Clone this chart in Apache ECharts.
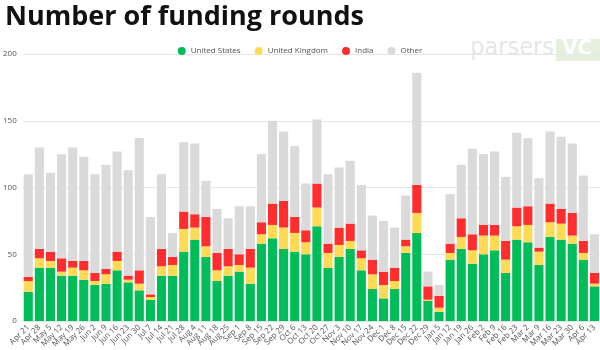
<!DOCTYPE html>
<html>
<head>
<meta charset="utf-8">
<script src="https://cdn.jsdelivr.net/npm/echarts@6/dist/echarts.min.js"></script>
<style>
  html, body { margin: 0; padding: 0; background: #fff; }
  #chart { width: 600px; height: 350px; }
</style>
</head>
<body>
<div id="chart"></div>
<script>
// weekly funding rounds
var weeks = ['Apr 21', 'Apr 28', 'May 5', 'May 12', 'May 19', 'May 26', 'Jun 2', 'Jun 9', 'Jun 16', 'Jun 23',
  'Jun 30', 'Jul 7', 'Jul 14', 'Jul 21', 'Jul 28', 'Aug 4', 'Aug 11', 'Aug 18', 'Aug 25', 'Sep 1',
  'Sep 8', 'Sep 15', 'Sep 22', 'Sep 29', 'Oct 6', 'Oct 13', 'Oct 20', 'Oct 27', 'Nov 3', 'Nov 10',
  'Nov 17', 'Nov 24', 'Dec 1', 'Dec 8', 'Dec 15', 'Dec 22', 'Dec 29', 'Jan 5', 'Jan 12', 'Jan 19',
  'Jan 26', 'Feb 2', 'Feb 9', 'Feb 16', 'Feb 23', 'Mar 2', 'Mar 9', 'Mar 16', 'Mar 23', 'Mar 30',
  'Apr 6', 'Apr 13'];

var usa = [22, 40, 40, 34, 34, 31, 27, 28, 38, 29,
  23, 16, 34, 34, 52, 61, 48, 30, 34, 37,
  28, 58, 62, 54, 52, 50, 71, 40, 48, 54,
  38, 24, 17, 24, 51, 66, 15, 7, 46, 54,
  43, 50, 53, 36, 61, 59, 42, 63, 61, 58,
  46, 26];
var uk = [8, 7, 5, 3, 6, 7, 3, 7, 7, 2,
  5, 2, 7, 8, 17, 9, 8, 8, 7, 5,
  12, 7, 10, 16, 14, 9, 14, 11, 9, 6,
  9, 11, 10, 6, 5, 15, 1, 3, 5, 9,
  10, 14, 11, 10, 10, 13, 10, 11, 12, 6,
  5, 2];
var india = [3, 7, 7, 10, 5, 7, 6, 4, 7, 3,
  10, 2, 13, 6, 13, 10, 22, 13, 13, 8,
  14, 9, 16, 20, 12, 9, 18, 7, 13, 13,
  6, 11, 10, 10, 5, 21, 10, 9, 7, 14,
  12, 8, 8, 14, 14, 14, 3, 14, 11, 17,
  9, 8];
var other = [77, 76, 59, 78, 85, 78, 74, 78, 75, 79,
  99, 58, 56, 18, 52, 53, 27, 33, 23, 36,
  32, 51, 62, 52, 53, 35, 48, 52, 45, 47,
  49, 33, 38, 30, 33, 84, 11, 8, 37, 40,
  64, 53, 55, 48, 56, 51, 52, 54, 54, 52,
  49, 29];

var chart = echarts.init(document.getElementById('chart'));

function bar(name, color, values) {
  return {
    name: name,
    type: 'bar',
    stack: 'total',
    barCategoryGap: '18%',
    itemStyle: { color: color },
    emphasis: { disabled: true },
    data: values
  };
}

var option = {
  animation: false,
  textStyle: { fontFamily: 'Open Sans' },
  title: {
    text: 'Number of funding rounds',
    left: 0,
    top: -1,
    textStyle: { fontSize: 27, fontWeight: 'bold', color: '#111', fontFamily: 'Open Sans' }
  },
  legend: {
    top: 42,
    left: 'center',
    icon: 'circle',
    itemWidth: 8,
    itemHeight: 8,
    itemGap: 14,
    textStyle: { fontSize: 8, color: '#555' },
    data: ['United States', 'United Kingdom', 'India', 'Other']
  },
  // faint watermark in the corner
  graphic: [{
    type: 'text',
    right: 46,
    top: 36,
    style: { text: 'parsers', fill: '#e6e6e6', fontSize: 25, fontFamily: 'DejaVu Sans Condensed' }
  }, {
    type: 'rect',
    right: 0,
    top: 39,
    shape: { width: 44, height: 22 },
    style: { fill: '#e6f0df' }
  }, {
    type: 'text',
    right: 8,
    top: 38,
    style: { text: 'VC', fill: '#fff', fontSize: 22, fontWeight: 'bold', fontFamily: 'DejaVu Sans Condensed' }
  }],
  grid: {
    left: 18,
    right: 0,
    top: 54,
    bottom: 25.5,
    containLabel: false
  },
  xAxis: {
    type: 'category',
    data: weeks,
    axisLine: { show: false },
    axisTick: { show: false },
    axisLabel: { rotate: 45, interval: 0, fontSize: 8, color: '#555', margin: 5 }
  },
  yAxis: {
    type: 'value',
    min: 0,
    max: 200,
    interval: 50,
    axisLine: { show: false },
    axisTick: { show: false },
    axisLabel: { fontSize: 8, color: '#555', margin: 6 },
    splitLine: { lineStyle: { color: '#e6e6e6', width: 1 } }
  },
  series: [
    bar('United States', '#00bd59', usa),
    bar('United Kingdom', '#ffdb55', uk),
    bar('India', '#ff2d2d', india),
    bar('Other', '#dadada', other)
  ]
};

chart.setOption(option);
</script>
</body>
</html>
